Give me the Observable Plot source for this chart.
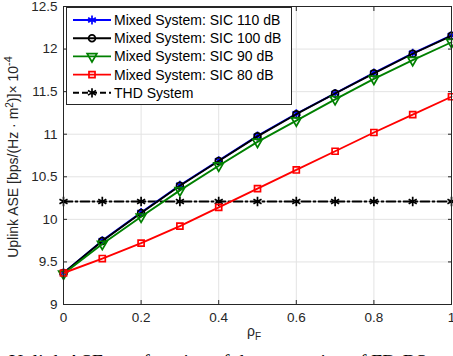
<!DOCTYPE html>
<html>
<head>
<meta charset="utf-8">
<script src="https://cdn.jsdelivr.net/npm/d3@7"></script>
<script src="https://cdn.jsdelivr.net/npm/@observablehq/plot@0.6"></script>
<style>
  html, body { margin: 0; padding: 0; background: #fff; overflow: hidden; width: 453px; height: 356px; }
  #chart { position: relative; width: 453px; height: 356px; overflow: hidden; }
  #caption { position: absolute; left: 0px; top: 351px; white-space: nowrap; line-height: 22px; font-family: "Liberation Serif", "Times New Roman", serif; font-size: 19.5px; color: #000; }
</style>
</head>
<body>
<div id="chart"></div>
<script>
const rho = [0, 0.1, 0.2, 0.3, 0.4, 0.5, 0.6, 0.7, 0.8, 0.9, 1.0];
const sic110 = [9.37, 9.75, 10.08, 10.40, 10.69, 10.98, 11.24, 11.48, 11.72, 11.95, 12.16];
const sic100 = [9.37, 9.745, 10.075, 10.395, 10.685, 10.975, 11.235, 11.478, 11.715, 11.945, 12.155];
const sic90 = [9.36, 9.71, 10.03, 10.34, 10.63, 10.91, 11.16, 11.41, 11.65, 11.87, 12.08];
const sic80 = [9.37, 9.54, 9.72, 9.92, 10.14, 10.36, 10.58, 10.80, 11.02, 11.23, 11.44];
const thd = [10.21, 10.21, 10.21, 10.21, 10.21, 10.21, 10.21, 10.21, 10.21, 10.21, 10.21];
const seriesNames = ["Mixed System: SIC 110 dB", "Mixed System: SIC 100 dB", "Mixed System: SIC 90 dB", "Mixed System: SIC 80 dB", "THD System"];
const xTicks = [0, 0.2, 0.4, 0.6, 0.8, 1];
const yTicks = [9, 9.5, 10, 10.5, 11, 11.5, 12, 12.5];

const styles = [
  {color: "#0000ff", symbol: "asterisk", r: 4.2, rotate: 0, dash: null},
  {color: "#000000", symbol: "circle", r: 3.4, rotate: 0, dash: null},
  {color: "#008000", symbol: "triangle", r: 3.6, rotate: 180, dash: null},
  {color: "#ff0000", symbol: "square", r: 3.4, rotate: 0, dash: null},
  {color: "#000000", symbol: "asterisk", r: 4.4, rotate: 0, dash: "9,3,2,3"}
];
const allSeries = [sic110, sic100, sic90, sic80, thd];
const tables = allSeries.map((vals, i) => rho.map((x, j) => ({x, y: vals[j], s: seriesNames[i]})));

const axisColor = "#262626";
const gridColor = "#e3e3e3";
const marks = [
  Plot.gridX(xTicks, {stroke: gridColor, strokeOpacity: 1, strokeWidth: 1}),
  Plot.gridY(yTicks, {stroke: gridColor, strokeOpacity: 1, strokeWidth: 1}),
];
const order = [4, 0, 1, 2, 3];
for (const i of order) {
  const st = styles[i];
  marks.push(Plot.line(tables[i], {x: "x", y: "y", stroke: st.color, strokeWidth: 1.9, strokeDasharray: st.dash}));
  marks.push(Plot.dot(tables[i], {x: "x", y: "y", stroke: st.color, strokeWidth: 1.7, fill: "none", symbol: st.symbol, r: st.r, rotate: st.rotate}));
}
marks.push(
  Plot.axisX(xTicks, {anchor: "bottom", tickSize: -4, tickPadding: 12, tickFormat: d => String(d), label: null, stroke: axisColor, color: axisColor}),
  Plot.axisX(xTicks, {anchor: "top", tickSize: -4, tickFormat: () => "", label: null, stroke: axisColor}),
  Plot.axisY(yTicks, {anchor: "left", tickSize: -4, tickPadding: 10, tickFormat: d => String(d), label: null, stroke: axisColor, color: axisColor}),
  Plot.axisY(yTicks, {anchor: "right", tickSize: -4, tickFormat: () => "", label: null, stroke: axisColor}),
  Plot.frame({stroke: axisColor, strokeWidth: 1})
);

const svg = Plot.plot({
  width: 453,
  height: 356,
  marginTop: 6,
  marginBottom: 52,
  marginLeft: 63,
  marginRight: 2,
  x: {domain: [0, 1]},
  y: {domain: [9, 12.5]},
  style: {fontFamily: "'Liberation Sans', Arial, Helvetica, sans-serif", fontSize: "13.5px", color: axisColor, background: "white"},
  marks
});

const S = d3.select(svg);
// y label
const yl = S.append("text")
  .attr("transform", "translate(18,157) rotate(-90)")
  .attr("text-anchor", "middle")
  .attr("fill", axisColor)
  .style("font-size", "14px");
yl.append("tspan").text("Uplink ASE [bps/(Hz · m");
yl.append("tspan").attr("dy", -5).style("font-size", "10px").text("2");
yl.append("tspan").attr("dy", 5).text(")]× 10");
yl.append("tspan").attr("dy", -6).style("font-size", "11px").text("-4");

// x label
const xl = S.append("text")
  .attr("x", 254).attr("y", 336)
  .attr("text-anchor", "middle")
  .attr("fill", axisColor)
  .style("font-size", "14px");
xl.append("tspan").text("ρ");
xl.append("tspan").attr("dy", 4).style("font-size", "10px").text("F");

// legend
const lg = S.append("g");
lg.append("rect").attr("x", 66.5).attr("y", 7.5).attr("width", 225).attr("height", 97)
  .attr("fill", "white").attr("stroke", axisColor).attr("stroke-width", 1);
const symMap = {asterisk: d3.symbolAsterisk, circle: d3.symbolCircle, triangle: d3.symbolTriangle, square: d3.symbolSquare};
seriesNames.forEach((name, i) => {
  const st = styles[i];
  const cy = 20 + i * 18.2;
  lg.append("line").attr("x1", 73).attr("x2", 111).attr("y1", cy).attr("y2", cy)
    .attr("stroke", st.color).attr("stroke-width", 1.9).attr("stroke-dasharray", st.dash ? "6,3" : null);
  lg.append("path").attr("d", d3.symbol(symMap[st.symbol], Math.PI * st.r * st.r)())
    .attr("transform", `translate(92,${cy}) rotate(${st.rotate})`)
    .attr("fill", "none").attr("stroke", st.color).attr("stroke-width", 1.7);
  lg.append("text").attr("x", 114).attr("y", cy).attr("dy", "0.36em")
    .attr("text-anchor", "start")
    .attr("fill", "#000").style("font-size", "14px").text(name);
});

const chart = document.getElementById("chart");
chart.appendChild(svg);
const cap = document.createElement("div");
cap.id = "caption";
const pre = document.createElement("span");
pre.textContent = "Uplink ";
const rest = document.createElement("span");
rest.textContent = "ASE as a function of the proportion of FD-BSs";
cap.appendChild(pre);
cap.appendChild(rest);
chart.appendChild(cap);
// align the word "ASE" with its place in the reference
cap.style.left = (67 - pre.getBoundingClientRect().width) + "px";
</script>
</body>
</html>
